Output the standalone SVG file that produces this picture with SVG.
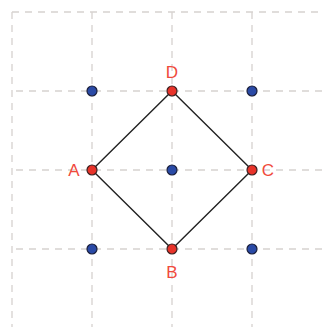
<svg xmlns="http://www.w3.org/2000/svg" width="324" height="327" viewBox="0 0 324 327">
<style>
.grid{stroke:#d6d2cf;stroke-width:1.3;stroke-dasharray:7 6;fill:none}
.edge{stroke:#222;stroke-width:1.4;fill:none}
.red{fill:#e8332a;stroke:#3a2020;stroke-width:1.2}
.blue{fill:#2a4aa6;stroke:#1a1f3a;stroke-width:1.2}
.lbl{font-family:"Liberation Sans",Arial,sans-serif;font-size:17px;fill:#f04a3c;text-anchor:middle}
</style>
<rect width="324" height="327" fill="#fff"/>
<g id="grid">
<line class="grid" x1="12" y1="12" x2="12" y2="327"/>
<line class="grid" x1="92" y1="12" x2="92" y2="327"/>
<line class="grid" x1="172" y1="12" x2="172" y2="327"/>
<line class="grid" x1="252" y1="12" x2="252" y2="327"/>
<line class="grid" x1="12" y1="12" x2="324" y2="12"/>
<line class="grid" x1="16" y1="91" x2="324" y2="91"/>
<line class="grid" x1="16" y1="170" x2="324" y2="170"/>
<line class="grid" x1="16" y1="249" x2="324" y2="249"/>
</g>
<g id="connectors">
<polygon class="edge" points="172,91 252,170 172,249 92,170"/>
</g>
<g id="blue-points">
<circle class="blue" cx="92" cy="91" r="5"/>
<circle class="blue" cx="252" cy="91" r="5"/>
<circle class="blue" cx="172" cy="170" r="5"/>
<circle class="blue" cx="92" cy="249" r="5"/>
<circle class="blue" cx="252" cy="249" r="5"/>
</g>
<g id="D"><circle class="red" cx="172" cy="91" r="5"/><text class="lbl" x="172" y="78">D</text></g>
<g id="A"><circle class="red" cx="92" cy="170" r="5"/><text class="lbl" x="74" y="176">A</text></g>
<g id="C"><circle class="red" cx="252" cy="170" r="5"/><text class="lbl" x="268" y="176">C</text></g>
<g id="B"><circle class="red" cx="172" cy="249" r="5"/><text class="lbl" x="172" y="278">B</text></g>
</svg>
